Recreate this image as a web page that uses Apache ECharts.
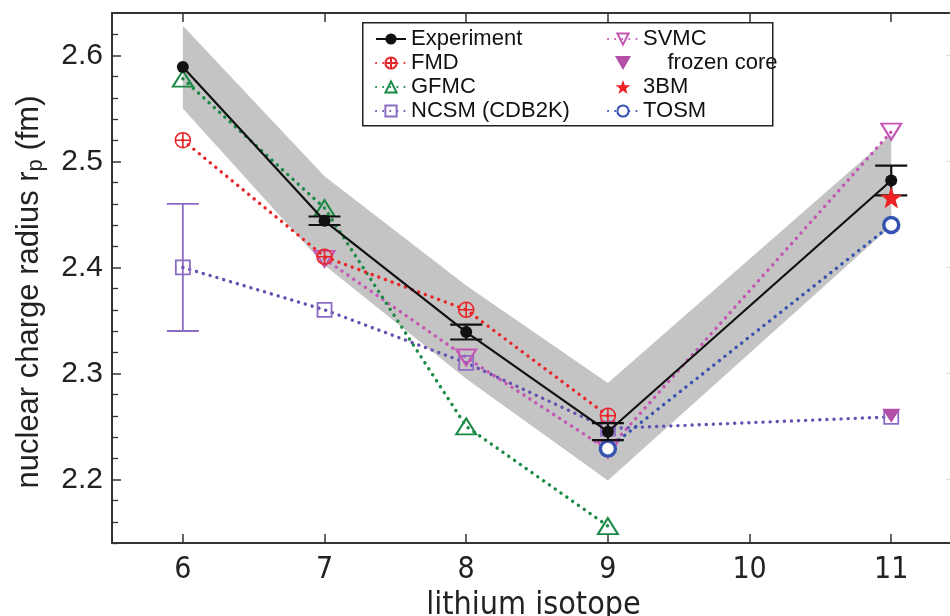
<!DOCTYPE html>
<html>
<head>
<meta charset="utf-8">
<script src="https://cdn.jsdelivr.net/npm/echarts@6/dist/echarts.min.js"></script>
<style>
  html, body { margin: 0; padding: 0; background: #fff; }
  #chart { width: 950px; height: 616px; }
</style>
</head>
<body>
<div id="chart"></div>
<script>
// Lithium isotope charge radii: experiment vs. theory
const isotopes = [6, 7, 8, 9, 11];
const expRadius = [2.589, 2.444, 2.339, 2.245, 2.482];
const expStatErr = [0, 0.004, 0.007, 0.008, 0.014];
const expTotalErr = [0.039, 0.042, 0.044, 0.046, 0.043];

const fmdIso = [6, 7, 8, 9];
const fmdRadius = [2.520, 2.410, 2.360, 2.260];

const gfmcIso = [6, 7, 8, 9];
const gfmcRadius = [2.578, 2.456, 2.250, 2.156];

const ncsmIso = [6, 7, 8, 9, 11];
const ncsmRadius = [2.400, 2.360, 2.310, 2.248, 2.259];
const ncsmErrIso = [6];
const ncsmErr = [0.060];

const svmcIso = [7, 8, 9, 11];
const svmcRadius = [2.408, 2.315, 2.228, 2.528];

const frozenIso = [11];
const frozenRadius = [2.260];

const bm3Iso = [11];
const bm3Radius = [2.466];

const tosmIso = [9, 11];
const tosmRadius = [2.229, 2.440];

const xTicks = [6, 7, 8, 9, 10, 11];
const yMajorTicks = [2.2, 2.3, 2.4, 2.5, 2.6];
const yMinorTicks = [2.14, 2.16, 2.18, 2.22, 2.24, 2.26, 2.28, 2.32, 2.34, 2.36, 2.38,
                     2.42, 2.44, 2.46, 2.48, 2.52, 2.54, 2.56, 2.58, 2.62];

const pairs = (xs, ys) => xs.map((x, i) => [x, ys[i]]);

const FONT = 'Liberation Sans, Arial, sans-serif';
const NARROW = 'Liberation Sans Narrow, Arial Narrow, DejaVu Sans Condensed, sans-serif';
const AXIS_COLOR = '#333';
const dotted = (color) => ({ color: color, width: 3.4, type: [0.1, 7], cap: 'round' });

const circlePlus = 'path://M-10,0 A10,10 0 1,0 10,0 A10,10 0 1,0 -10,0 Z M-10,0 L10,0 M0,-10 L0,10';
const triDown = 'path://M0,0 L20,0 L10,17.32 Z';
const star = 'path://M0,-10 L2.35,-3.24 L9.51,-3.09 L3.8,1.24 L5.88,8.09 L0,4 L-5.88,8.09 L-3.8,1.24 L-9.51,-3.09 L-2.35,-3.24 Z';

const X_MIN = 5.5, X_MAX = 11.45, Y_MIN = 2.14, Y_MAX = 2.64;

const chart = echarts.init(document.getElementById('chart'), null, { renderer: 'canvas' });

const baseXAxis = {
  type: 'value', min: X_MIN, max: X_MAX,
  axisLine: { show: true, onZero: false, lineStyle: { color: AXIS_COLOR, width: 1.8 } },
  axisTick: { show: true, inside: true, length: 9, customValues: xTicks, lineStyle: { color: AXIS_COLOR, width: 1.5 } },
  splitLine: { show: false }
};

const baseYAxis = {
  type: 'value', min: Y_MIN, max: Y_MAX,
  axisLine: { show: true, onZero: false, lineStyle: { color: AXIS_COLOR, width: 1.8 } },
  splitLine: { show: false }
};

const option = {
  animation: false,
  backgroundColor: '#fff',
  textStyle: { fontFamily: FONT },
  grid: { left: 112, right: -5, top: 13, bottom: 73, outerBoundsMode: 'none', containLabel: false },
  graphic: [{
    type: 'rect', left: 362, top: 22, z: 100,
    shape: { width: 410, height: 103 },
    style: { fill: 'rgba(0,0,0,0)', stroke: '#222', lineWidth: 1.5 }
  }],
  legend: [{
    orient: 'vertical', left: 370, top: 22, itemGap: 0, itemWidth: 30, itemHeight: 14,
    textStyle: { fontSize: 22, color: '#111', lineHeight: 24, fontFamily: FONT },
    data: ['Experiment', 'FMD', 'GFMC', 'NCSM (CDB2K)']
  }, {
    orient: 'vertical', left: 602, top: 22, itemGap: 0, itemWidth: 30, itemHeight: 14,
    textStyle: { fontSize: 22, color: '#111', lineHeight: 24, fontFamily: FONT },
    formatter: (name) => name === 'frozen core' ? '    frozen core' : name,
    data: ['SVMC', 'frozen core', '3BM', 'TOSM']
  }],
  xAxis: [
    Object.assign({}, baseXAxis, {
      position: 'bottom',
      axisLabel: { show: true, customValues: xTicks, fontSize: 30, color: '#222', margin: 12, fontFamily: NARROW },
      name: 'lithium isotope', nameLocation: 'middle', nameGap: 47,
      nameTextStyle: { fontSize: 32, color: '#222', fontFamily: NARROW }
    }),
    Object.assign({}, baseXAxis, { position: 'top', axisLabel: { show: false } })
  ],
  yAxis: [
    Object.assign({}, baseYAxis, {
      position: 'left',
      axisTick: { show: true, inside: true, length: 9, customValues: yMajorTicks, lineStyle: { color: AXIS_COLOR, width: 1.5 } },
      axisLabel: {
        show: true, customValues: yMajorTicks, fontSize: 30, color: '#222', margin: 9, fontFamily: FONT,
        formatter: (v) => v.toFixed(1)
      },
      name: 'nuclear charge radius r{sub|p} (fm)', nameLocation: 'middle', nameGap: 65,
      nameTextStyle: {
        fontSize: 31, color: '#222', fontFamily: FONT, padding: [0, 28, 0, 0],
        rich: { sub: { fontSize: 22, color: '#222', fontFamily: FONT, padding: [14, 0, 0, 0] } }
      }
    }),
    Object.assign({}, baseYAxis, {
      position: 'left',
      axisTick: { show: true, inside: true, length: 6, customValues: yMinorTicks, lineStyle: { color: AXIS_COLOR, width: 1.3 } },
      axisLabel: { show: false }
    }),
    Object.assign({}, baseYAxis, {
      position: 'right',
      axisTick: { show: true, inside: true, length: 9, customValues: yMajorTicks, lineStyle: { color: '#ddd', width: 1.2 } },
      axisLabel: { show: false }
    })
  ],
  series: [
    {
      // total uncertainty band around the measured radii
      name: 'band', type: 'custom', silent: true, z: 1,
      data: isotopes.map((x, i) => [x, expRadius[i] - expTotalErr[i], expRadius[i] + expTotalErr[i]]),
      encode: { x: 0, y: [1, 2] },
      renderItem: (params, api) => {
        if (params.dataIndex !== 0) return null;
        const pts = [];
        for (let i = 0; i < isotopes.length; i++) pts.push(api.coord([isotopes[i], expRadius[i] + expTotalErr[i]]));
        for (let i = isotopes.length - 1; i >= 0; i--) pts.push(api.coord([isotopes[i], expRadius[i] - expTotalErr[i]]));
        return { type: 'polygon', shape: { points: pts }, style: { fill: '#c4c4c4' } };
      }
    },
    {
      name: 'NCSM (CDB2K)', type: 'line', z: 3, data: pairs(ncsmIso, ncsmRadius),
      lineStyle: dotted('#6a4fb0'),
      symbol: 'rect', symbolSize: 14,
      itemStyle: { color: 'rgba(255,255,255,0)', borderColor: '#8a6cc4', borderWidth: 1.8 }
    },
    {
      name: 'ncsmErr', type: 'custom', z: 3, silent: true,
      data: ncsmErrIso.map((x, i) => [x, ncsmRadius[ncsmIso.indexOf(x)] - ncsmErr[i], ncsmRadius[ncsmIso.indexOf(x)] + ncsmErr[i]]),
      encode: { x: 0, y: [1, 2] },
      renderItem: (params, api) => {
        const lo = api.coord([api.value(0), api.value(1)]);
        const hi = api.coord([api.value(0), api.value(2)]);
        const w = 16;
        const st = { stroke: '#8a6cc4', lineWidth: 1.8 };
        return { type: 'group', children: [
          { type: 'line', shape: { x1: lo[0], y1: lo[1], x2: hi[0], y2: hi[1] }, style: st },
          { type: 'line', shape: { x1: lo[0] - w, y1: lo[1], x2: lo[0] + w, y2: lo[1] }, style: st },
          { type: 'line', shape: { x1: hi[0] - w, y1: hi[1], x2: hi[0] + w, y2: hi[1] }, style: st }
        ] };
      }
    },
    {
      name: 'SVMC', type: 'line', z: 3, data: pairs(svmcIso, svmcRadius),
      lineStyle: dotted('#c555b5'),
      symbol: triDown, symbolSize: [20, 16],
      itemStyle: { color: 'rgba(255,255,255,0)', borderColor: '#c555b5', borderWidth: 2 }
    },
    {
      name: 'TOSM', type: 'line', z: 4, data: pairs(tosmIso, tosmRadius),
      lineStyle: dotted('#3552b0'),
      symbol: 'circle', symbolSize: 15,
      itemStyle: { color: '#ffffff', borderColor: '#3552b0', borderWidth: 3.4 }
    },
    {
      name: 'GFMC', type: 'line', z: 4, data: pairs(gfmcIso, gfmcRadius),
      lineStyle: dotted('#1a8a45'),
      symbol: 'triangle', symbolSize: [20, 16],
      itemStyle: { color: 'rgba(255,255,255,0)', borderColor: '#1a8a45', borderWidth: 2 }
    },
    {
      name: 'FMD', type: 'line', z: 5, data: pairs(fmdIso, fmdRadius),
      lineStyle: dotted('#e8262a'),
      symbol: circlePlus, symbolSize: 15,
      itemStyle: { color: 'rgba(255,255,255,0)', borderColor: '#e8262a', borderWidth: 1.6 }
    },
    {
      name: 'Experiment', type: 'line', z: 6, data: pairs(isotopes, expRadius),
      lineStyle: { color: '#111', width: 2.2, type: 'solid' },
      symbol: 'circle', symbolSize: 12,
      itemStyle: { color: '#111', borderColor: '#111', borderWidth: 0 }
    },
    {
      name: 'expErr', type: 'custom', z: 6, silent: true,
      data: isotopes.map((x, i) => [x, expRadius[i] - expStatErr[i], expRadius[i] + expStatErr[i], expStatErr[i]]),
      encode: { x: 0, y: [1, 2] },
      renderItem: (params, api) => {
        if (!(api.value(3) > 0)) return null;
        const lo = api.coord([api.value(0), api.value(1)]);
        const hi = api.coord([api.value(0), api.value(2)]);
        const w = 16;
        const st = { stroke: '#111', lineWidth: 2.2 };
        return { type: 'group', children: [
          { type: 'line', shape: { x1: lo[0], y1: lo[1], x2: hi[0], y2: hi[1] }, style: st },
          { type: 'line', shape: { x1: lo[0] - w, y1: lo[1], x2: lo[0] + w, y2: lo[1] }, style: st },
          { type: 'line', shape: { x1: hi[0] - w, y1: hi[1], x2: hi[0] + w, y2: hi[1] }, style: st }
        ] };
      }
    },
    {
      name: 'frozen core', type: 'scatter', z: 7, data: pairs(frozenIso, frozenRadius),
      symbol: triDown, symbolSize: [18, 14],
      itemStyle: { color: '#b24fa8', opacity: 1 }
    },
    {
      name: '3BM', type: 'scatter', z: 7, data: pairs(bm3Iso, bm3Radius),
      symbol: star, symbolSize: 22,
      itemStyle: { color: '#ee2222', opacity: 1 }
    }
  ]
};

chart.setOption(option);
</script>
</body>
</html>
